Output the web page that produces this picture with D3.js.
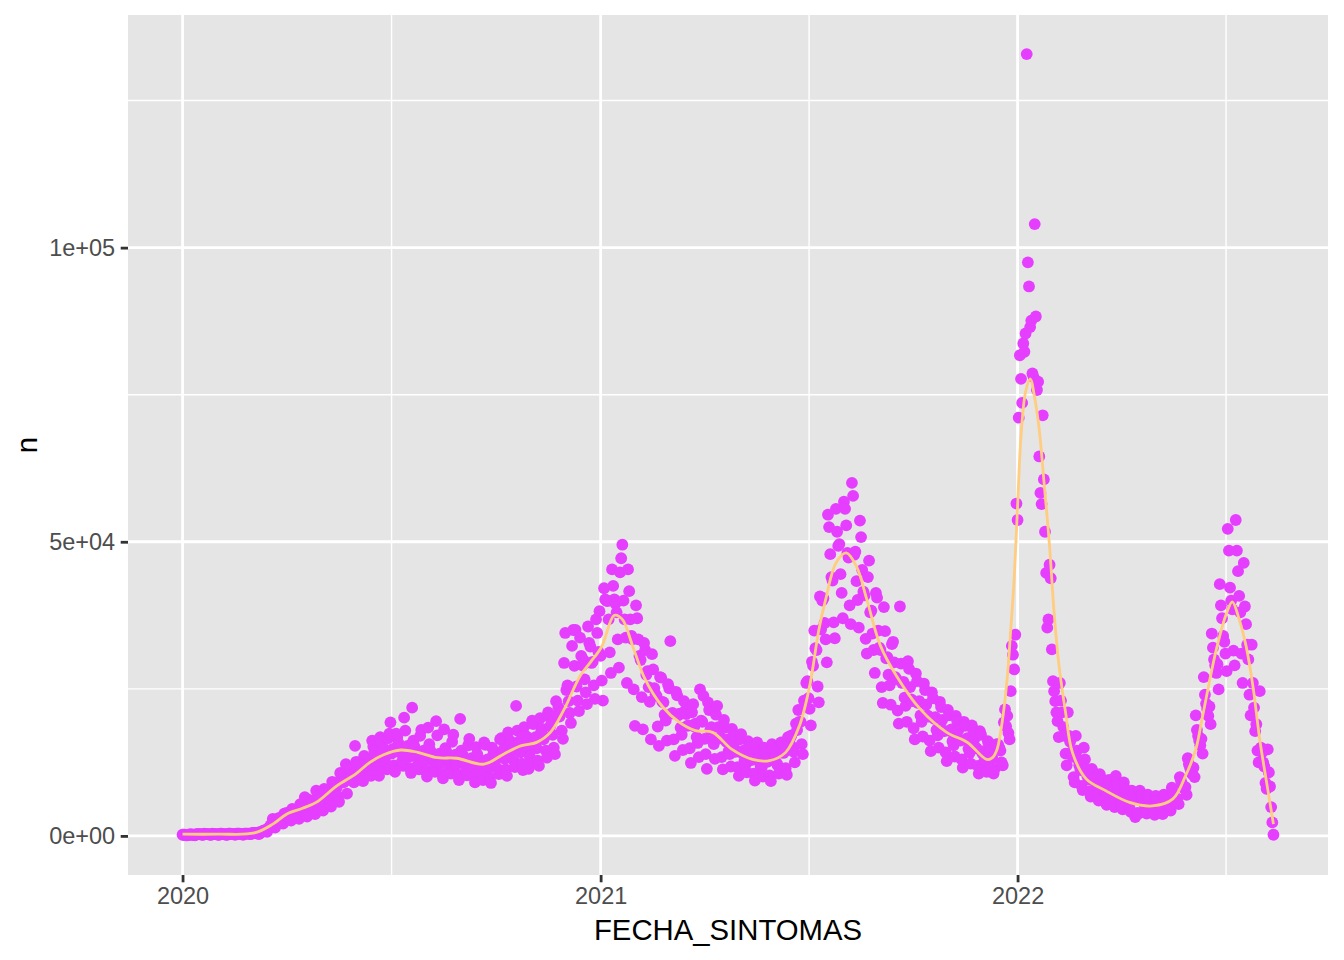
<!DOCTYPE html>
<html>
<head>
<meta charset="utf-8">
<script src="https://cdn.jsdelivr.net/npm/d3@7"></script>
<style>
  body { margin: 0; background: #fff; }
  svg { display: block; font-family: "Liberation Sans", Arial, Helvetica, sans-serif; }
</style>
</head>
<body>
<div id="chart"></div>
<script>
// casos diarios por fecha de sintomas, en miles
var casos2020 = [
  0.2,0.2,0.2,0.1,0.1,0.2,0.2, 0.3,0.2,0.2,0.2,0.1,0.3,0.3, 0.3,0.3,0.3,0.2,0.2,0.4,0.3,
  0.3,0.3,0.3,0.2,0.2,0.4,0.3, 0.3,0.3,0.3,0.2,0.2,0.4,0.4, 0.3,0.3,0.3,0.2,0.2,0.4,0.4,
  0.4,0.3,0.3,0.3,0.2,0.4,0.4, 0.4,0.4,0.3,0.3,0.2,0.4,0.4, 0.4,0.4,0.4,0.3,0.3,0.5,0.5,
  0.5,0.5,0.5,0.4,0.3,0.7,0.6, 0.8,0.9,1.0,0.8,0.7,1.3,1.4, 1.8,1.9,2.9,1.6,1.4,2.6,2.7,
  3.0,3.0,2.9,2.4,2.1,3.8,3.7, 3.9,3.8,3.6,3.0,2.6,4.6,4.4, 4.4,4.3,4.1,3.4,2.9,5.4,5.0,
  5.1,4.9,6.6,3.9,3.3,6.2,5.7, 5.8,5.5,5.2,4.3,3.7,7.7,6.4, 6.7,6.3,6.1,5.0,4.3,8.0,7.4,
  7.8,7.4,7.0,5.8,5.0,9.2,8.5, 9.0,8.5,8.2,6.7,5.8,10.7,9.9, 10.4,9.1,9.3,12.2,7.2,11.5,10.6,
  11.3,10.2,9.8,9.1,15.3,12.6,11.8, 12.5,11.0,11.6,9.9,9.3,13.6,12.7, 12.2,13.1,11.4,10.8,10.2,16.2,15.2,
  14.4,12.8,13.3,11.6,10.2,16.8,15.9, 14.0,14.9,12.9,12.3,11.3,16.6,17.4, 19.3,14.0,14.8,12.0,10.9,17.4,16.8,
  15.8,14.2,14.9,12.6,11.9,20.1,17.9, 14.6,15.3,13.4,11.5,10.7,21.8,16.2, 15.2,13.6,14.1,12.1,11.3,17.0,18.0,
  13.9,14.5,12.7,11.0,10.1,18.4,15.6, 14.5,13.1,13.5,11.6,10.9,19.5,17.1, 13.5,14.0,12.4,10.6,9.8,18.1,14.9,
  14.3,12.9,13.2,11.4,10.6,16.0,17.2, 13.3,13.8,12.2,10.4,9.5,19.9,14.5, 13.9,12.5,12.8,11.1,10.3,15.4,16.5,
  12.6,13.2,11.7,10.1,9.1,15.1,13.9, 13.2,11.9,12.1,10.6,9.5,15.9,15.5, 12.5,13.0,11.5,9.9,9.0,15.0,13.8,
  14.3,12.9,13.2,11.4,10.5,16.4,16.6, 14.1,14.7,13.1,11.3,10.2,17.6,15.6, 16.1,14.4,14.8,12.8,11.7,22.1,17.9,
  15.5,16.1,14.2,12.3,11.2,18.5,17.0, 16.9,15.2,11.4,13.5,12.4,19.6,19.0, 16.2,16.8,14.9,12.8,11.9,20.0,17.8,
  18.2,16.4,16.8,14.5,13.3,21.0,20.3, 18.7,19.4,17.2,15.0,13.9,22.9,20.6, 21.9,20.3,21.0,17.9,16.5,29.4,34.5,
  24.8,25.6,22.9,20.9,19.2,32.3,35.0, 28.9,35.0,25.4,23.0,21.2,33.7,30.6, 29.0,29.9,26.6,24.4,22.4,35.6,32.8,
  32.2,29.4,29.6,25.6,23.3,36.8,34.5, 31.3,38.2
];
var casos2021 = [
  30.6,26.4,23.0,42.1,40.2,
  40.0,39.9,36.8,31.2,27.7,45.3,42.5, 40.2,39.5,38.0,33.4,28.6,44.8,47.2, 49.5,40.0,36.8,33.7,26.0,45.3,41.6,
  36.8,34.0,33.4,24.9,18.7,39.2,37.0, 33.4,30.6,29.9,23.6,18.1,32.8,31.6, 27.4,28.0,25.3,22.8,16.4,30.9,28.3,
  25.1,24.0,23.8,18.6,15.3,27.0,26.9, 22.8,22.7,20.6,19.6,16.2,25.8,25.1, 33.1,20.8,20.9,16.4,13.6,24.5,23.9,
  20.5,20.8,18.4,17.2,14.6,22.9,21.3, 20.7,18.7,18.8,14.9,12.4,21.0,22.4, 18.6,19.1,16.8,15.8,13.4,24.9,19.6,
  19.4,23.8,16.5,13.9,11.4,22.7,21.4, 18.0,18.5,16.2,15.6,13.1,20.6,22.1, 18.5,16.6,16.8,13.4,11.3,19.7,18.4,
  16.0,16.4,14.4,13.9,11.8,18.2,17.0, 15.9,14.3,14.5,11.7,10.2,16.4,17.3, 14.1,14.5,12.8,12.2,10.8,16.1,15.0,
  14.4,12.9,13.1,10.6,9.4,14.8,15.9, 13.1,13.6,11.9,11.6,10.1,15.0,14.0, 14.1,12.6,12.8,10.3,9.3,15.6,14.6,
  13.7,14.1,12.4,12.0,10.6,15.0,15.9, 15.7,14.1,14.3,11.5,10.4,16.8,16.0, 16.7,17.1,15.1,14.3,12.5,19.1,18.0,
  21.4,19.4,19.4,15.6,13.9,23.0,22.7, 26.0,26.3,23.4,21.6,18.8,29.6,28.9, 34.9,31.9,31.6,25.4,22.7,40.7,35.1,
  40.0,40.4,36.2,33.4,29.5,54.6,52.5, 47.9,44.0,43.4,36.3,33.6,55.6,51.7, 49.3,49.6,44.5,41.3,37.0,56.8,55.6,
  52.8,48.1,47.3,39.2,36.0,60.0,57.8, 47.8,48.3,43.3,40.1,35.4,53.6,50.8, 45.2,41.5,40.9,33.5,31.0,44.0,46.8,
  38.0,38.3,34.4,31.6,27.7,41.3,40.5, 34.9,32.0,31.6,25.3,22.6,38.9,34.8, 30.2,30.4,27.4,25.6,22.3,32.6,33.0,
  29.5,27.0,26.6,21.3,19.1,39.0,29.3, 26.0,26.2,23.5,22.1,19.4,29.7,28.4, 25.3,23.2,22.9,18.3,16.4,27.6,26.3,
  22.6,22.9,20.5,19.4,16.9,25.9,24.8, 22.3,20.5,20.3,16.2,14.4,24.4,23.4, 19.9,20.2,18.0,17.1,15.0,22.8,21.9,
  19.7,17.9,17.8,14.2,12.7,21.4,20.5, 17.8,18.1,16.1,15.4,13.5,20.4,19.6, 17.9,16.4,16.2,13.0,11.6,19.4,18.7,
  16.3,16.6,14.8,14.1,12.3,18.8,18.0, 16.4,15.0,14.9,11.9,10.6,17.8,17.2, 14.1,14.4,12.8,12.4,10.9,16.1,15.7,
  14.4,13.2,13.2,10.6,11.4,15.5,15.6, 15.5,15.0,14.5,12.5,12.0,19.3,21.5, 18.6,20.4,17.5,16.4,24.6,32.3,30.8,
  28.3,34.2,56.5
];
var casos2022 = [
  53.7,71.1,81.7,77.7,73.6,83.7,82.3, 85.4,132.9,97.5,93.4,86.5,87.6,78.6, 78.0,104.0,88.3,75.8,77.2,64.5,58.3,
  56.4,71.5,60.6,51.7,44.7,35.4,36.8, 46.1,43.8,31.7,26.3,24.6,22.9,21.0,
  19.5,16.8,26.0,23.0,21.0,18.5,17.0, 14.0,12.0,21.0,17.0,16.0,14.2,13.5, 10.0,9.1,17.0,14.5,13.0,12.0,11.2,
  8.5,7.8,15.0,13.0,11.4,10.2,9.6, 7.6,6.7,11.4,10.8,10.0,9.2,8.5, 7.0,6.0,10.5,9.8,9.0,8.6,8.0,
  6.3,5.3,7.5,9.5,8.5,8.0,7.4, 5.8,4.9,10.2,8.7,8.0,7.5,6.9, 5.3,4.5,9.1,8.0,7.3,6.9,6.4,
  4.8,4.1,7.7,7.0,6.4,3.2,3.6, 3.9,3.8,7.7,6.9,6.2,5.8,5.4, 4.3,3.8,7.0,6.3,5.8,5.4,5.0,
  4.2,3.6,6.8,6.1,5.7,5.2,4.9, 4.4,3.7,7.0,6.4,5.9,5.5,5.2, 5.0,4.3,8.2,7.4,6.8,6.4,6.0,
  6.3,5.4,10.0,9.4,8.8,8.4,8.0, 8.3,7.0,13.2,12.2,11.6,11.0,10.5, 11.6,10.0,20.5,18.0,17.0,16.2,15.4,
  16.5,14.0,27.0,24.0,22.5,21.6,20.4, 22.0,19.0,34.4,32.0,30.0,29.0,27.7, 29.2,24.9,42.8,39.2,37.0,34.0,33.0,
  31.0,28.0,52.2,48.5,42.2,40.0,38.5, 31.5,29.0,53.7,48.5,45.0,40.8,38.0, 31.0,26.0,46.4,39.0,36.0,32.5,30.0,
  24.0,20.5,32.5,26.0,21.8,17.8,19.0, 14.5,12.5,24.6,15.0,14.2,12.5,11.8, 9.0,8.0,14.7,10.8,8.4,4.9,2.3,
  0.2
];

// curva suavizada (geom_smooth), en miles
var suaveFechas = [
  "2020-01-01","2020-02-01","2020-03-04","2020-03-20","2020-04-01","2020-04-15","2020-04-27",
  "2020-05-15","2020-06-01","2020-06-13","2020-06-25","2020-07-10","2020-07-25","2020-08-11","2020-08-28",
  "2020-09-21","2020-10-08","2020-10-23","2020-11-06","2020-11-18","2020-11-30","2020-12-14","2020-12-23",
  "2021-01-02","2021-01-13","2021-01-20","2021-01-29","2021-02-09","2021-02-24","2021-03-11","2021-03-25",
  "2021-04-09","2021-04-26","2021-05-14","2021-05-29","2021-06-12","2021-06-24","2021-07-03","2021-07-11",
  "2021-07-17","2021-07-26","2021-08-04","2021-08-13","2021-08-22","2021-09-03","2021-09-17","2021-10-08",
  "2021-10-31","2021-11-18","2021-12-05","2021-12-10","2021-12-14","2021-12-17","2021-12-20","2021-12-23",
  "2021-12-26","2021-12-29","2022-01-01","2022-01-04","2022-01-08","2022-01-12","2022-01-16","2022-01-20",
  "2022-01-24","2022-01-29","2022-02-02","2022-02-06","2022-02-12","2022-02-18","2022-03-02","2022-03-19",
  "2022-04-09","2022-04-29","2022-05-17","2022-05-28","2022-06-06","2022-06-12","2022-06-24","2022-07-03",
  "2022-07-08","2022-07-14","2022-07-20","2022-07-26","2022-08-01","2022-08-07","2022-08-13"
];
var suaveValores = [
  0.3,0.3,0.5,2.0,3.7,4.7,5.7,
  8.5,10.6,12.5,13.8,14.6,14.2,13.3,13.2,
  12.2,13.9,15.3,15.9,17.6,21.5,27.2,29.5,
  32.2,37.5,36.8,32.3,26.6,22.0,19.3,17.9,
  17.6,14.7,13.0,12.8,14.2,18.7,25.5,35.0,
  40.2,46.4,48.1,45.8,40.2,32.3,27.2,21.5,
  17.6,15.9,13.0,13.3,14.7,17.5,21.5,27.0,
  35.0,43.6,56.0,68.0,75.5,77.7,74.5,69.0,
  60.5,49.2,37.9,29.4,21.0,14.2,9.7,7.7,
  5.7,5.1,6.3,10.2,14.7,20.4,31.7,37.9,
  39.8,36.8,32.3,25.5,16.4,9.1,2.0
];

var yTicks = [0, 50000, 100000];
var xTicks = ["2020-01-01", "2021-01-01", "2022-01-01"];
var xTickLabels = ["2020", "2021", "2022"];

var width = 1344, height = 960;
var margin = {top: 15, right: 16, bottom: 85, left: 128};
var parse = d3.utcParse("%Y-%m-%d");

// una fila por dia
var datos = [];
[[2020, casos2020], [2021, casos2021], [2022, casos2022]].forEach(function(p) {
  var inicio = Date.UTC(p[0], 0, 1);
  p[1].forEach(function(v, i) {
    datos.push({fecha: d3.utcDay.offset(new Date(inicio), i), n: v * 1000});
  });
});
var suave = suaveFechas.map(function(f, i) {
  return {fecha: parse(f), n: suaveValores[i] * 1000};
});

// rangos con la expansion del 5% de ggplot
var ext = d3.extent(datos, function(d) { return d.fecha; });
var padX = (ext[1] - ext[0]) * 0.05;
var x = d3.scaleUtc()
  .domain([new Date(+ext[0] - padX), new Date(+ext[1] + padX)])
  .range([margin.left, width - margin.right]);

var yMax = d3.max(datos, function(d) { return d.n; });
var y = d3.scaleLinear()
  .domain([-yMax * 0.05, yMax * 1.05])
  .range([height - margin.bottom, margin.top]);

var svg = d3.select("#chart").append("svg")
  .attr("width", width)
  .attr("height", height);

var x0 = margin.left, x1 = width - margin.right;
var y0 = margin.top, y1 = height - margin.bottom;

svg.append("rect")
  .attr("x", x0).attr("y", y0)
  .attr("width", x1 - x0).attr("height", y1 - y0)
  .attr("fill", "#E5E5E5");

// rejilla menor
var xMaj = xTicks.map(parse);
var xMin = [];
for (var a = 0; a < xMaj.length; a++) {
  var sig = a + 1 < xMaj.length ? +xMaj[a + 1] : Date.UTC(2023, 0, 1);
  var m = new Date((+xMaj[a] + sig) / 2);
  if (m >= x.domain()[0] && m <= x.domain()[1]) xMin.push(m);
}
var yMin = [25000, 75000, 125000];

var grid = svg.append("g");
grid.selectAll(".vmin").data(xMin).enter().append("line")
  .attr("x1", function(d) { return x(d); }).attr("x2", function(d) { return x(d); })
  .attr("y1", y0).attr("y2", y1)
  .attr("stroke", "#fff").attr("stroke-width", 1.4);
grid.selectAll(".hmin").data(yMin).enter().append("line")
  .attr("x1", x0).attr("x2", x1)
  .attr("y1", function(d) { return y(d); }).attr("y2", function(d) { return y(d); })
  .attr("stroke", "#fff").attr("stroke-width", 1.4);
grid.selectAll(".vmaj").data(xMaj).enter().append("line")
  .attr("x1", function(d) { return x(d); }).attr("x2", function(d) { return x(d); })
  .attr("y1", y0).attr("y2", y1)
  .attr("stroke", "#fff").attr("stroke-width", 2.8);
grid.selectAll(".hmaj").data(yTicks).enter().append("line")
  .attr("x1", x0).attr("x2", x1)
  .attr("y1", function(d) { return y(d); }).attr("y2", function(d) { return y(d); })
  .attr("stroke", "#fff").attr("stroke-width", 2.8);

// puntos
svg.append("g").selectAll("circle")
  .data(datos)
  .enter()
  .append("circle")
  .attr("cx", function(d) { return x(d.fecha); })
  .attr("cy", function(d) { return y(d.n); })
  .attr("r", 5.9)
  .attr("fill", "#E53EFF");

// curva suavizada
var linea = d3.line()
  .x(function(d) { return x(d.fecha); })
  .y(function(d) { return y(d.n); })
  .curve(d3.curveCatmullRom.alpha(0.5));
svg.append("path")
  .datum(suave)
  .attr("d", linea)
  .attr("fill", "none")
  .attr("stroke", "#FFCC80")
  .attr("stroke-width", 2.8);

// ejes
function expo(v) {
  var s = d3.format(".0e")(v);
  return s.replace(/e([+-])(\d)$/, "e$10$2");
}

var ejeX = d3.axisBottom(x)
  .tickValues(xMaj)
  .tickFormat(function(d, i) { return xTickLabels[i]; })
  .tickSize(7.3).tickPadding(5.5);
var gx = svg.append("g").attr("transform", "translate(0," + y1 + ")").call(ejeX);

var ejeY = d3.axisLeft(y)
  .tickValues(yTicks)
  .tickFormat(expo)
  .tickSize(7.3).tickPadding(5.5);
var gy = svg.append("g").attr("transform", "translate(" + x0 + ",0)").call(ejeY);

[gx, gy].forEach(function(g) {
  g.select(".domain").remove();
  g.selectAll(".tick line").attr("stroke", "#333333").attr("stroke-width", 2.8);
  g.selectAll(".tick text")
    .attr("fill", "#4D4D4D")
    .style("font-size", "23.5px")
    .style("font-family", "'Liberation Sans', Arial, sans-serif");
});

svg.append("text")
  .attr("x", (x0 + x1) / 2)
  .attr("y", 940)
  .attr("text-anchor", "middle")
  .style("font-size", "29.3px")
  .attr("fill", "#000")
  .text("FECHA_SINTOMAS");

svg.append("text")
  .attr("transform", "translate(37," + ((y0 + y1) / 2) + ") rotate(-90)")
  .attr("text-anchor", "middle")
  .style("font-size", "29.3px")
  .attr("fill", "#000")
  .text("n");
</script>
</body>
</html>
